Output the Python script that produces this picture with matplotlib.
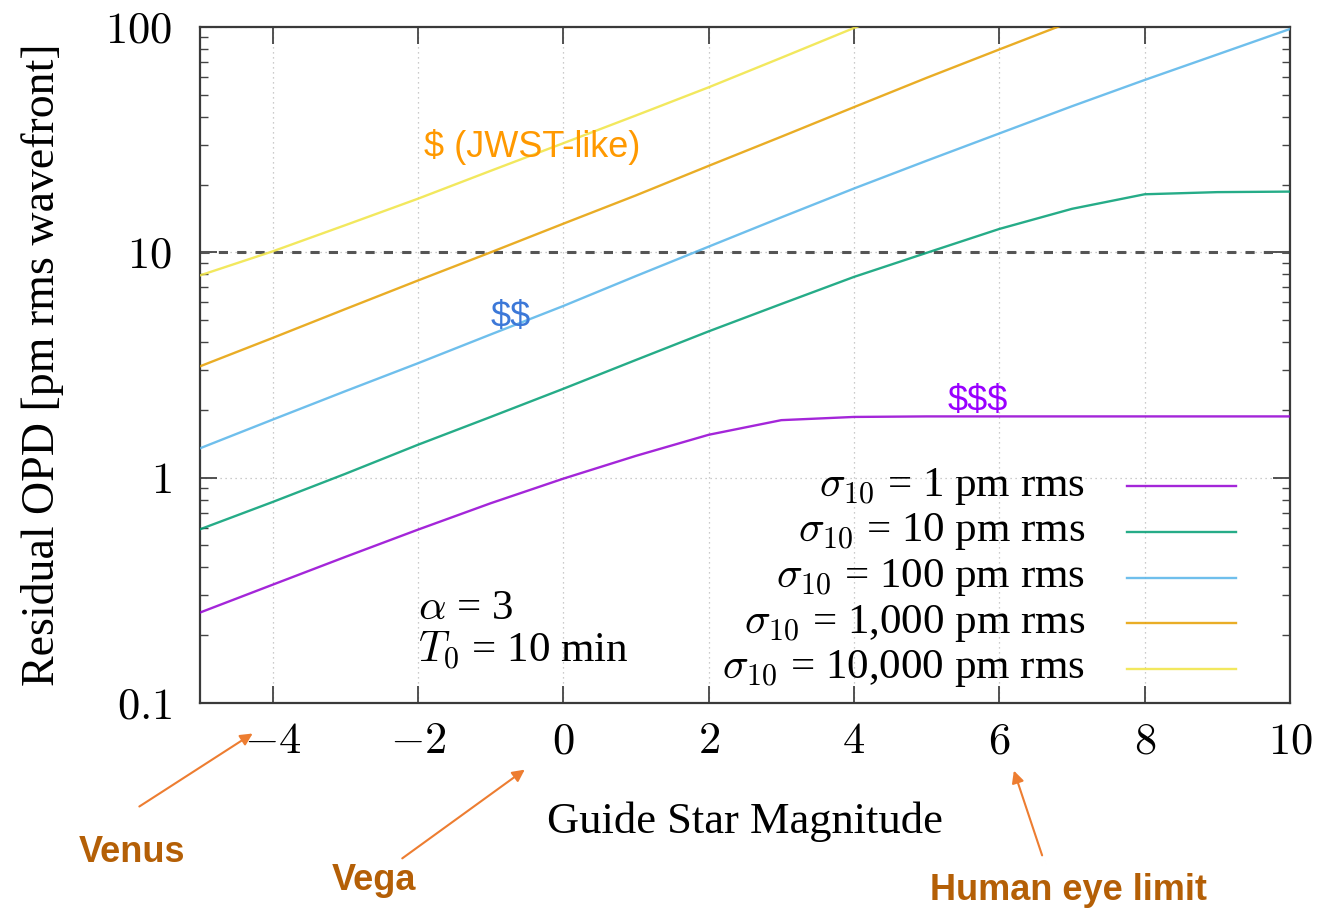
"""Residual OPD vs guide star magnitude for several sigma_10 levels."""

import matplotlib

matplotlib.use("Agg")
import matplotlib.pyplot as plt
from matplotlib.ticker import FixedFormatter, FixedLocator, LogLocator, NullFormatter

plt.rcParams["font.family"] = ["Liberation Serif", "DejaVu Serif"]
plt.rcParams["mathtext.fontset"] = "cm"

# guide star magnitude samples
magnitude = [-5, -4, -3, -2, -1, 0, 1, 2, 3, 4, 5, 6, 7, 8, 9, 10]

# residual OPD [pm rms], one list per sigma_10
opd_sigma_1 = [0.252, 0.335, 0.445, 0.588, 0.77, 0.99, 1.25, 1.55, 1.80, 1.86, 1.87, 1.87, 1.87, 1.87, 1.87, 1.87]
opd_sigma_10 = [0.59, 0.78, 1.04, 1.40, 1.86, 2.48, 3.33, 4.46, 5.9, 7.78, 9.95, 12.7, 15.6, 18.1, 18.5, 18.6]
opd_sigma_100 = [1.35, 1.81, 2.42, 3.22, 4.32, 5.78, 7.85, 10.6, 14.3, 19.2, 25.5, 33.7, 44.5, 58.2, 75.5, 98]
opd_sigma_1000 = [3.12, 4.17, 5.6, 7.5, 10.0, 13.4, 17.9, 24.2, 32.6, 44.1, 59.5, 79.5, 106, 140, 185, 245]
opd_sigma_10000 = [7.9, 10.1, 13.2, 17.3, 23.0, 30.5, 40.5, 54, 73, 99, 133, 178, 238, 318, 425, 568]

series_labels = [
    r"$\sigma_{10}$ = 1 pm rms",
    r"$\sigma_{10}$ = 10 pm rms",
    r"$\sigma_{10}$ = 100 pm rms",
    r"$\sigma_{10}$ = 1,000 pm rms",
    r"$\sigma_{10}$ = 10,000 pm rms",
]
series_colors = ["#9400d3", "#009e73", "#56b4e9", "#e69f00", "#f0e442"]

x_ticks = [-4, -2, 0, 2, 4, 6, 8, 10]
x_tick_labels = [r"$-4$", r"$-2$", r"$0$", r"$2$", r"$4$", r"$6$", r"$8$", r"$10$"]
y_ticks = [0.1, 1, 10, 100]
y_tick_labels = [r"$0.1$", r"$1$", r"$10$", r"$100$"]
requirement = 10

W, H = 1325, 913
fig = plt.figure(figsize=(W / 100, H / 100), dpi=100)
ax = fig.add_axes([200 / W, 1 - 703 / H, 1090 / W, 676 / H])

series = [opd_sigma_1, opd_sigma_10, opd_sigma_100, opd_sigma_1000, opd_sigma_10000]
for values, color in zip(series, series_colors):
    ax.plot(magnitude, values, color=color, lw=1.7, alpha=0.85, zorder=3)

ax.axhline(requirement, color="#555555", lw=2.2, ls=(0, (3, 3)), zorder=2)

ax.set_yscale("log")
ax.set_xlim(-5, 10)
ax.set_ylim(0.1, 100)

ax.xaxis.set_major_locator(FixedLocator(x_ticks))
ax.xaxis.set_major_formatter(FixedFormatter(x_tick_labels))
ax.yaxis.set_major_locator(FixedLocator(y_ticks))
ax.yaxis.set_major_formatter(FixedFormatter(y_tick_labels))
ax.yaxis.set_minor_locator(LogLocator(base=10, subs=range(2, 10)))
ax.yaxis.set_minor_formatter(NullFormatter())

ax.tick_params(which="both", direction="in", top=True, right=True, colors="#444444",
               labelcolor="black", labelsize=32)
ax.tick_params(which="major", length=12, width=1.3)
ax.tick_params(axis="x", which="major", pad=14)
ax.tick_params(axis="y", which="major", pad=20)
ax.tick_params(which="minor", length=6, width=1.0)
ax.grid(True, which="major", ls=(0, (1, 3)), color="#bbbbbb", lw=0.9)
for spine in ax.spines.values():
    spine.set_color("#3a3a3a")
    spine.set_linewidth(1.6)

ax.set_xlabel("Guide Star Magnitude", fontsize=32, labelpad=28)
ax.set_ylabel("Residual OPD [pm rms wavefront]", fontsize=33, labelpad=30)

# legend drawn by hand: right-aligned text, sample line on the right
legend_rows = [0.321, 0.253, 0.185, 0.118, 0.051]
for label, color, yy in zip(series_labels, series_colors, legend_rows):
    ax.text(0.812, yy, label, transform=ax.transAxes, ha="right", va="center", fontsize=31)
    ax.plot([0.8505, 0.9505], [yy, yy], transform=ax.transAxes, color=color, lw=1.7, alpha=0.85)

ax.text(0.2, 0.14, r"$\alpha$ = 3", transform=ax.transAxes, ha="left", va="center", fontsize=31)
ax.text(0.2, 0.077, r"$T_0$ = 10 min", transform=ax.transAxes, ha="left", va="center", fontsize=31)

# cost annotations
sans = ["Liberation Sans", "DejaVu Sans"]
ax.text(-0.43, 29.3, "$ (JWST-like)", color="#ff9900", fontsize=26, family=sans,
        ha="center", va="center", parse_math=False)
ax.text(-0.73, 5.16, "$$", color="#3c78d8", fontsize=26, family=sans,
        ha="center", va="center", parse_math=False)
ax.text(5.70, 2.17, "$$$", color="#9900ff", fontsize=26, family=sans,
        ha="center", va="center", parse_math=False)

# reference stars below the axis
arrow_color = "#ed7d31"
text_color = "#b45f06"
marks = [
    ("Venus", (132, 852), (137, 808), (255, 732)),
    ("Vega", (374, 880), (400, 860), (527, 768)),
    ("Human eye limit", (1068, 890), (1043, 858), (1013, 768)),
]
for name, pos, tail, head in marks:
    fig.text(pos[0] / W, 1 - pos[1] / H, name, color=text_color, fontsize=26,
             family=sans, weight="bold", ha="center", va="center")
    fig.add_artist(matplotlib.patches.FancyArrowPatch(
        (tail[0] / W, 1 - tail[1] / H), (head[0] / W, 1 - head[1] / H),
        transform=fig.transFigure, arrowstyle="-|>", mutation_scale=18,
        color=arrow_color, lw=1.5))

fig.savefig("out.png", dpi=100)
